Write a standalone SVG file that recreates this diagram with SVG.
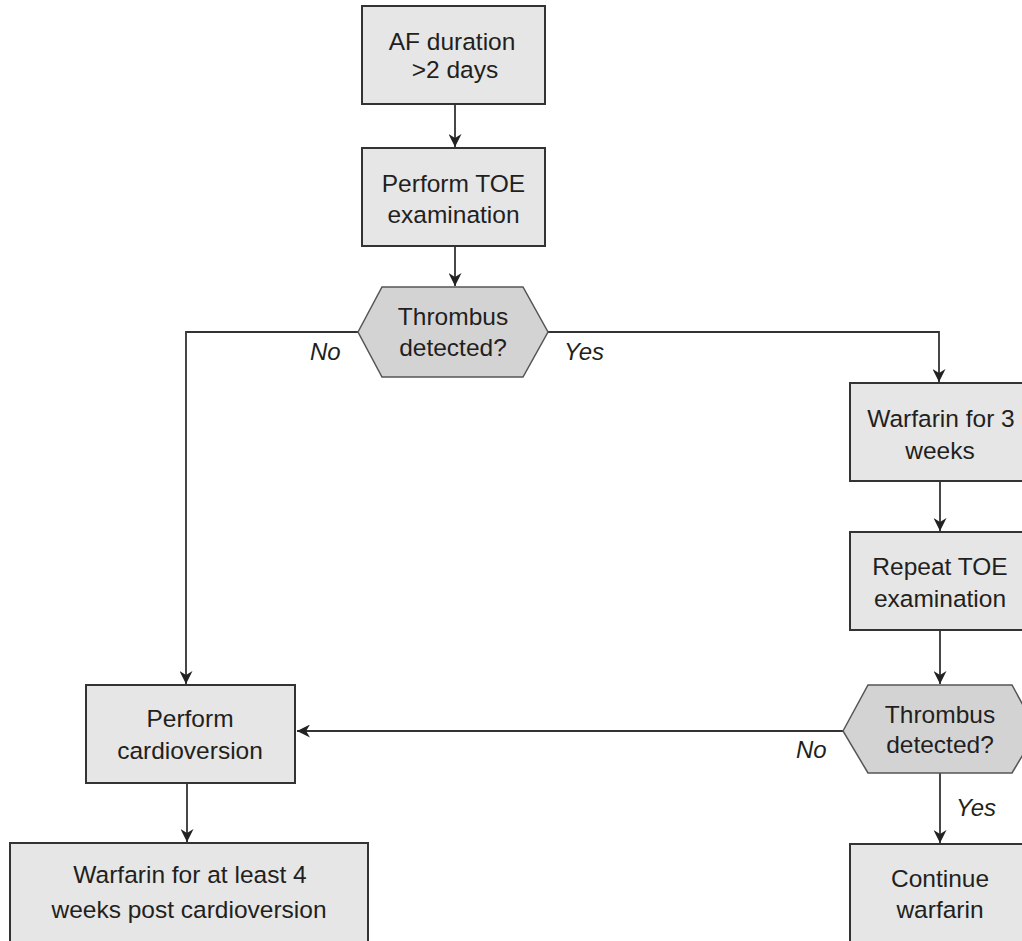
<svg xmlns="http://www.w3.org/2000/svg" width="1022" height="941" viewBox="0 0 1022 941">
<defs>
<style>
.box{fill:#e6e6e6;stroke:#333;stroke-width:2}
.hex{fill:#d3d3d3;stroke:#555;stroke-width:1.5}
.t{font-family:"Liberation Sans",Arial,sans-serif;font-size:24.5px;fill:#231f20;text-anchor:middle}
.l{font-family:"Liberation Sans",Arial,sans-serif;font-size:24px;fill:#231f20;font-style:italic}
.c{fill:none;stroke:#333;stroke-width:1.8}
</style>
<marker id="ah" markerWidth="13" markerHeight="13" refX="10" refY="5" orient="auto" markerUnits="userSpaceOnUse" viewBox="0 0 10 10">
<path d="M0,0 L10,5 L0,10 L3,5 Z" fill="#222"/>
</marker>
</defs>
<rect width="1022" height="941" fill="#fff"/>
<g id="connectors">
<path class="c" d="M455,104 V147" marker-end="url(#ah)"/>
<path class="c" d="M455,246 V286" marker-end="url(#ah)"/>
<path class="c" d="M358,332 H186 V684" marker-end="url(#ah)"/>
<path class="c" d="M548,332 H939 V382" marker-end="url(#ah)"/>
<path class="c" d="M940,481 V531" marker-end="url(#ah)"/>
<path class="c" d="M940,630 V684" marker-end="url(#ah)"/>
<path class="c" d="M843,731 H297" marker-end="url(#ah)"/>
<path class="c" d="M187,783 V842" marker-end="url(#ah)"/>
<path class="c" d="M940,773 V843" marker-end="url(#ah)"/>
<text class="l" x="310" y="360">No</text>
<text class="l" x="564" y="360">Yes</text>
<text class="l" x="796" y="758">No</text>
<text class="l" x="956" y="816">Yes</text>
</g>
<g id="af">
<rect class="box" x="362" y="6" width="183" height="98"/>
<text class="t" x="452" y="50">AF duration</text>
<text class="t" x="455" y="78">&gt;2 days</text>
</g>
<g id="toe">
<rect class="box" x="362" y="148" width="183" height="98"/>
<text class="t" x="453.5" y="192">Perform TOE</text>
<text class="t" x="453.5" y="223">examination</text>
</g>
<g id="dec1">
<polygon class="hex" points="358,332 382,287 523,287 548,332 523,377 382,377"/>
<text class="t" x="453" y="325">Thrombus</text>
<text class="t" x="453" y="356">detected?</text>
</g>
<g id="warf3">
<rect class="box" x="850" y="383" width="180" height="98"/>
<text class="t" x="941" y="427">Warfarin for 3</text>
<text class="t" x="940" y="459">weeks</text>
</g>
<g id="repeat">
<rect class="box" x="850" y="532" width="180" height="98"/>
<text class="t" x="940" y="575">Repeat TOE</text>
<text class="t" x="940" y="607">examination</text>
</g>
<g id="dec2">
<polygon class="hex" points="843,731 868,685 1012,685 1037,731 1012,773 868,773"/>
<text class="t" x="940" y="723">Thrombus</text>
<text class="t" x="940" y="753">detected?</text>
</g>
<g id="cardio">
<rect class="box" x="86" y="685" width="209" height="98"/>
<text class="t" x="190" y="727">Perform</text>
<text class="t" x="190" y="759">cardioversion</text>
</g>
<g id="warf4">
<rect class="box" x="10" y="843" width="358" height="110"/>
<text class="t" x="190" y="883">Warfarin for at least 4</text>
<text class="t" x="189" y="918">weeks post cardioversion</text>
</g>
<g id="continue">
<rect class="box" x="850" y="844" width="180" height="110"/>
<text class="t" x="940" y="887">Continue</text>
<text class="t" x="940" y="918">warfarin</text>
</g>
</svg>
